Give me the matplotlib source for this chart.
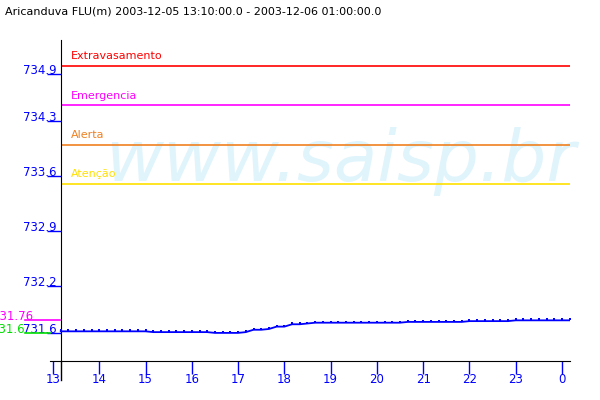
import matplotlib
matplotlib.use("Agg")
import matplotlib.pyplot as plt
import matplotlib.transforms as mtransforms
import numpy as np
import pandas as pd

# dados: nivel a cada 10 min, 2003-12-05 13:10 ate 2003-12-06 00:10
times = pd.date_range("2003-12-05 13:10", "2003-12-06 00:10", freq="10min")
level = [731.62, 731.62, 731.62, 731.62, 731.62, 731.62, 731.62, 731.62, 731.62, 731.62, 731.62, 731.62,
         731.61, 731.61, 731.61, 731.61, 731.61, 731.61, 731.61, 731.61,
         731.60, 731.60, 731.60, 731.60,
         731.61, 731.64, 731.64, 731.65, 731.68, 731.68, 731.71, 731.71, 731.72,
         731.73, 731.73, 731.73, 731.73, 731.73, 731.73, 731.73, 731.73, 731.73, 731.73, 731.73, 731.73,
         731.74, 731.74, 731.74, 731.74, 731.74, 731.74, 731.74, 731.74,
         731.75, 731.75, 731.75, 731.75, 731.75, 731.75,
         731.76, 731.76, 731.76, 731.76, 731.76, 731.76, 731.76, 731.76]

thr_names = ["Extravasamento", "Emergencia", "Alerta", "Atenção"]
thr_values = [735.0, 734.5, 734.0, 733.5]
thr_colors = ["#ff0000", "#ff00ff", "#f08020", "#ffe000"]

ytick_vals = [734.9, 734.3, 733.6, 732.9, 732.2, 731.6]
ytick_labels = ["734.9", "734.3", "733.6", "732.9", "732.2", "731.6"]
xtick_hours = [13, 14, 15, 16, 17, 18, 19, 20, 21, 22, 23, 0]

title = "Aricanduva FLU(m) 2003-12-05 13:10:00.0 - 2003-12-06 01:00:00.0"

blue = "#0000ff"
plt.rcParams['font.family'] = ['DejaVu Sans']

fig = plt.figure(figsize=(6, 4), dpi=100)
ax = fig.add_axes([50/600, 1 - 360.5/400, 520/600, 320.5/400])

# eixo x em horas decimais
hours = [(t - pd.Timestamp("2003-12-05 00:00")).total_seconds() / 3600 for t in times]
x_lo = 13 - 3/46.27
x_hi = 13 + 517/46.27
ax.set_xlim(x_lo, x_hi)
ax.set_ylim(735 - 294.5/78.5, 735 + 26/78.5)

t0 = hours[0]

# marca d'agua
ax.text(0.56, 0.62, "www.saisp.br", transform=ax.transAxes, fontsize=51,
        style="italic", color="#e0f4fc", ha="center", va="center", zorder=0)

# linhas de referencia
for name, v, c in zip(thr_names, thr_values, thr_colors):
    ax.hlines(v, t0, x_hi, color=c, lw=1.2, zorder=2)
    ax.text(t0 + 10/46.27, v + 0.06, name, color=c, fontsize=8, va="bottom", ha="left")

ax.plot(hours, level, color=blue, lw=1.3, zorder=3)
ax.plot(hours, [v + 0.012 for v in level], ls="none", color=blue, marker="s", ms=1.6,
        mew=0, zorder=3)

# eixos
for s in ["top", "right"]:
    ax.spines[s].set_visible(False)
ax.spines["left"].set_position(("data", t0))
ax.spines["bottom"].set_color("black")
ax.plot([t0, t0], [ax.get_ylim()[0] - 19/78.5, ax.get_ylim()[0]], color="black", lw=1,
        clip_on=False)

ax.set_xticks([h if h >= 13 else h + 24 for h in xtick_hours])
ax.set_xticklabels([str(h) for h in xtick_hours])
ax.tick_params(axis="x", colors=blue, length=9, width=1, pad=0, labelsize=8.5)

ax.set_yticks(ytick_vals)
ax.set_yticklabels(ytick_labels)
ax.tick_params(axis="y", colors=blue, length=10, width=1, pad=-7.2, labelsize=8.5)
for lab in ax.get_yticklabels():
    lab.set_verticalalignment("baseline")

# min / max a esquerda
trans = mtransforms.blended_transform_factory(fig.transFigure, ax.transData)
vmax, vmin = max(level), min(level)
ax.plot([25/600, 60/600], [vmax, vmax], color="#ff00ff", lw=1.2, transform=trans, clip_on=False)
ax.text(33/600, vmax, f"{vmax:.2f}", color="#ff00ff", fontsize=8.5, ha="right", va="baseline",
        transform=trans)
ax.plot([25/600, 50/600], [vmin, vmin], color="#00e000", lw=1.2, transform=trans, clip_on=False)
ax.text(25/600, vmin, f"{vmin:.1f}", color="#00e000", fontsize=8.5, ha="right", va="baseline",
        transform=trans)

fig.text(5/600, 1 - 12/400, title, fontsize=8, ha="left", va="center", color="black")

fig.savefig("out.png", dpi=100)
